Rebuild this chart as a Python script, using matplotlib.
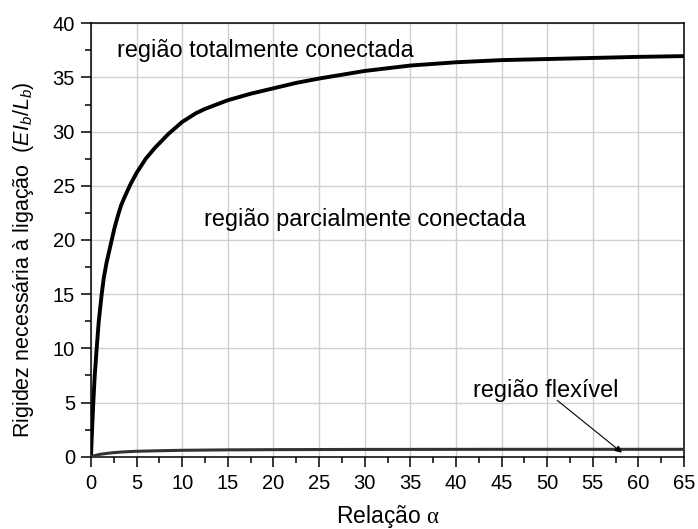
import matplotlib
matplotlib.use("Agg")
import matplotlib.pyplot as plt
from matplotlib.ticker import MultipleLocator

# --- Data ---
alpha_rigid = [0, 0.05, 0.1, 0.25, 0.4, 0.62, 0.85, 1.17, 1.4, 1.7, 2.0, 2.27, 2.6, 3.0, 3.3, 3.7, 4.3,
               5.0, 6.0, 7.0, 8.5, 10, 11.5, 12.5, 15, 17.5, 20, 22.5, 25, 30, 35, 40, 45, 50, 55, 60, 65]
k_rigid = [0, 1.2, 2.2, 5.0, 7.4, 10.0, 12.5, 15.0, 16.5, 17.9, 19.0, 20.0, 21.2, 22.4, 23.2, 24.0, 25.1,
           26.2, 27.5, 28.5, 29.8, 30.9, 31.7, 32.1, 32.9, 33.5, 34.0, 34.5, 34.9, 35.6, 36.1, 36.4, 36.6,
           36.7, 36.8, 36.9, 36.97]

alpha_flex = [0, 0.5, 1, 1.7, 2.45, 3.5, 5, 7.5, 10, 15, 20, 30, 45, 65]
k_flex = [0, 0.12, 0.22, 0.30, 0.37, 0.44, 0.50, 0.55, 0.59, 0.63, 0.65, 0.67, 0.68, 0.68]

XTICKS = list(range(0, 66, 5))
YTICKS = list(range(0, 41, 5))

# --- Style ---
plt.rcParams["font.family"] = ["Liberation Sans", "DejaVu Sans"]
plt.rcParams["mathtext.fontset"] = "custom"
plt.rcParams["mathtext.it"] = "Liberation Sans:italic"
plt.rcParams["mathtext.rm"] = "Liberation Serif"

fig = plt.figure(figsize=(6.98, 5.29), dpi=100)
ax = fig.add_axes([0.1304, 0.1367, 0.8496, 0.8193])

ax.plot(alpha_rigid, k_rigid, color="black", linewidth=2.8, solid_joinstyle="round",
        solid_capstyle="round", zorder=3)
ax.plot(alpha_flex, k_flex, color="#333333", linewidth=2.2, solid_joinstyle="round", zorder=3)

ax.set_xlim(0, 65)
ax.set_ylim(0, 40)
ax.set_xticks(XTICKS)
ax.set_yticks(YTICKS)
ax.xaxis.set_minor_locator(MultipleLocator(2.5))
ax.yaxis.set_minor_locator(MultipleLocator(2.5))
ax.tick_params(which="major", direction="out", length=7.5, width=1.1, labelsize=14.5, pad=4)
ax.tick_params(axis="x", which="major", pad=5)
ax.tick_params(which="minor", direction="out", length=4, width=1.1)
ax.grid(True, which="major", color="#d0d0d0", linewidth=1.0, zorder=0)
ax.set_axisbelow(True)
for s in ax.spines.values():
    s.set_linewidth(1.1)

ax.set_xlabel(r"Relação $\mathrm{\alpha}$", fontsize=16.5, labelpad=7)
ax.set_ylabel(r"Rigidez necessária à ligação  ($EI_b$/$L_b$)", fontsize=15.5)
ax.yaxis.set_label_coords(-0.093, 0.455)

# --- Region labels ---
ax.text(2.8, 37.5, "região totalmente conectada", fontsize=16.9, va="center", ha="left")
ax.text(12.4, 21.9, "região parcialmente conectada", fontsize=16.9, va="center", ha="left")
ax.text(41.9, 6.1, "região flexível", fontsize=16.9, va="center", ha="left")
ax.annotate("", xy=(58.2, 0.37), xytext=(51.1, 5.2),
            arrowprops=dict(arrowstyle="-|>", color="black", lw=0.8,
                            mutation_scale=10, shrinkA=0, shrinkB=0))

fig.savefig("out.png", dpi=100)
